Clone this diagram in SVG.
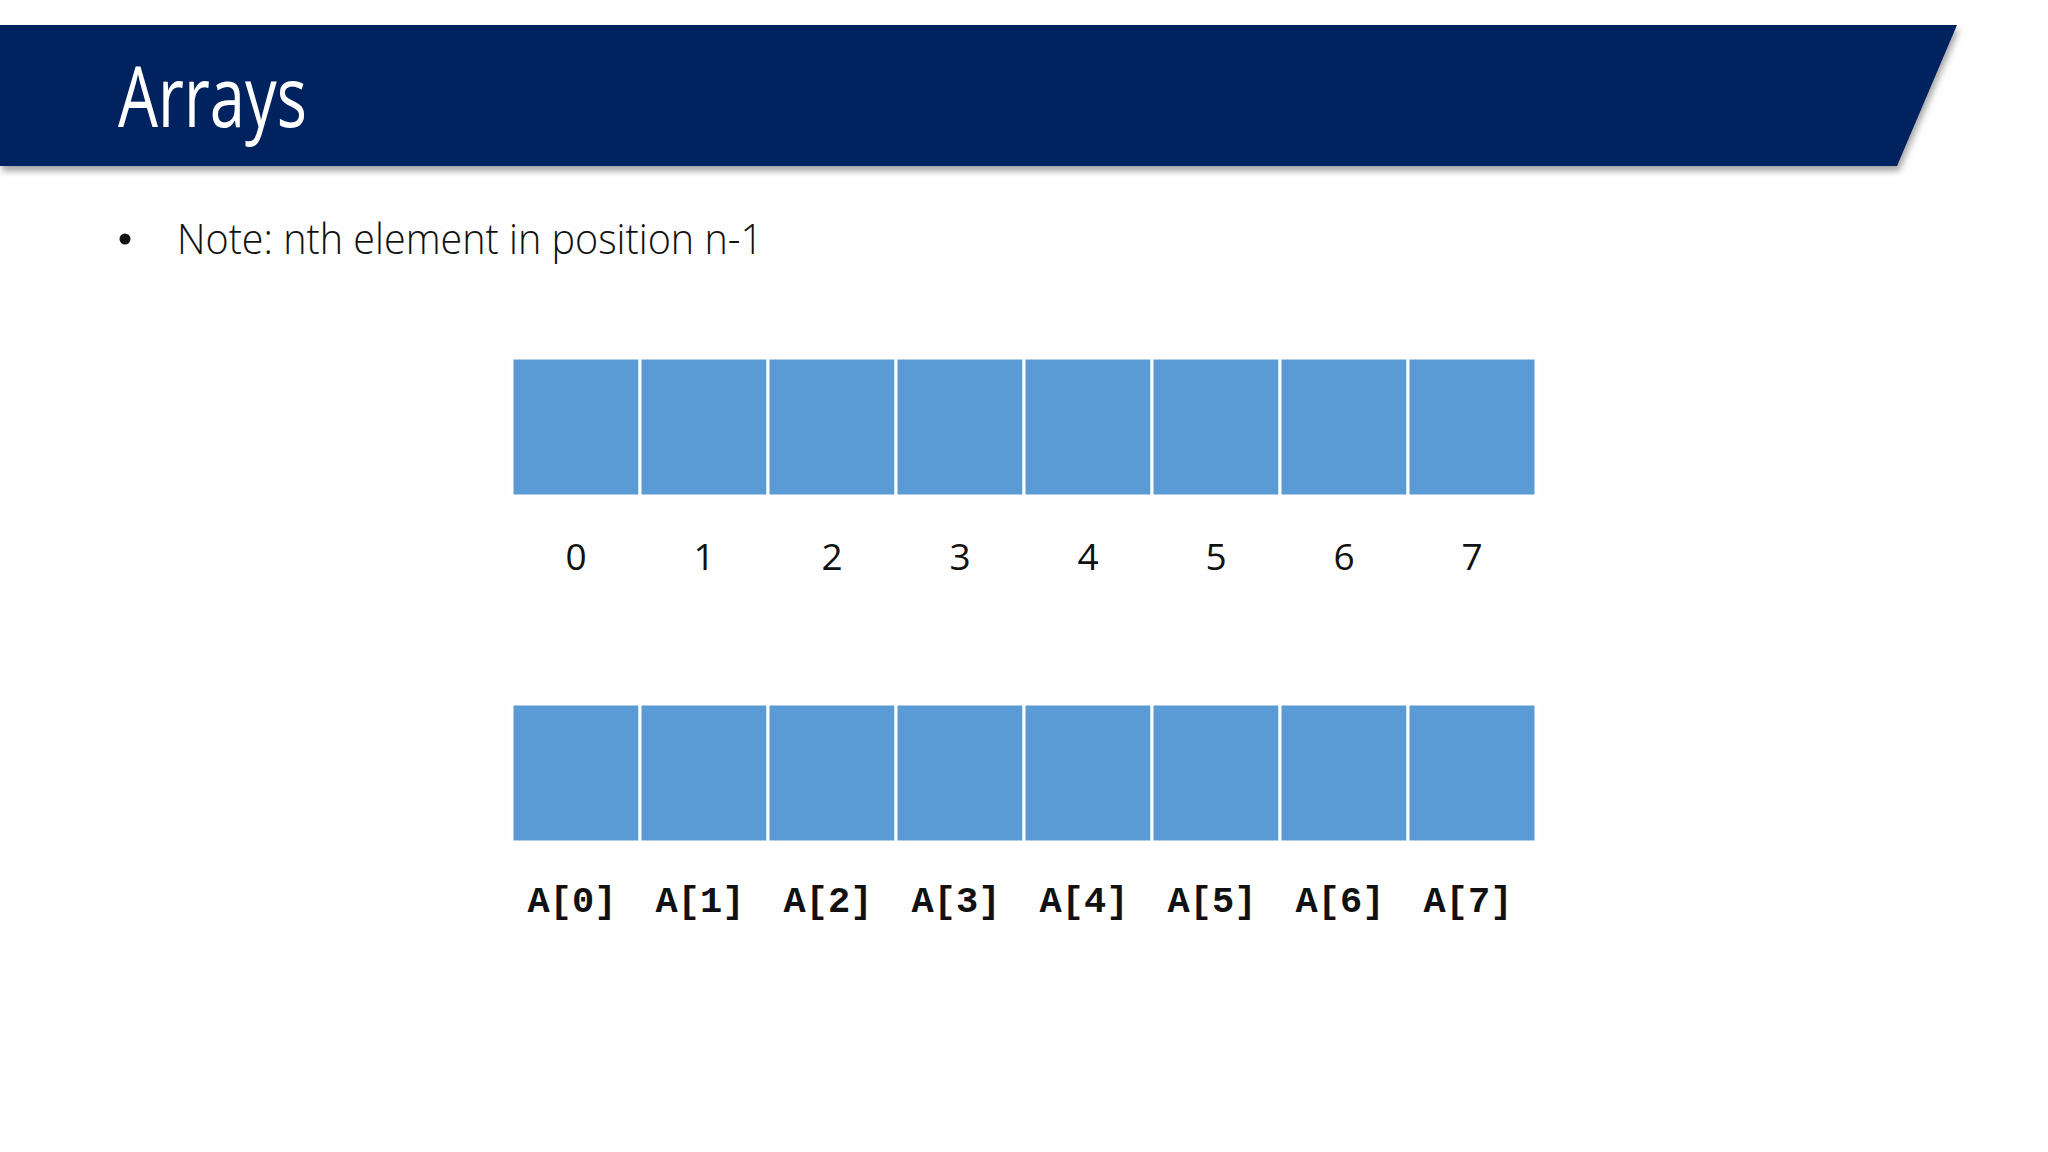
<svg xmlns="http://www.w3.org/2000/svg" width="2048" height="1152" viewBox="0 0 2048 1152">
  <defs>
    <filter id="shadow" x="-5%" y="-20%" width="110%" height="150%">
      <feDropShadow dx="2" dy="5" stdDeviation="3" flood-color="#000" flood-opacity="0.35"/>
    </filter>
  </defs>
  <style>
    .cell { fill: #5B9BD5; stroke: #FFFFFF; stroke-width: 3; }
    .idx { font-family: "Open Sans", "Noto Sans", sans-serif; font-size: 37px; fill: #111; text-anchor: middle; }
    .acc { font-family: "Liberation Mono", "Courier New", monospace; font-weight: bold; font-size: 37px; fill: #111; text-anchor: middle; }
  </style>
  <rect width="2048" height="1152" fill="#FEFEFE"/>

  <g id="header">
    <polygon points="0,25 1957,25 1897,166 0,166" fill="#03205F" filter="url(#shadow)"/>
    <text x="118" y="127" font-family="Open Sans, Noto Sans, sans-serif" font-size="84" fill="#FFFFFF" textLength="189" lengthAdjust="spacingAndGlyphs">Arrays</text>
  </g>

  <g id="bullet">
    <circle cx="125" cy="239" r="5.5" fill="#111"/>
    <text x="177" y="254" font-family="Open Sans, Noto Sans, sans-serif" font-weight="300" font-size="42" fill="#111" textLength="586" lengthAdjust="spacingAndGlyphs">Note: nth element in position n-1</text>
  </g>

  <g id="array-top">
    <rect class="cell" x="512" y="358" width="128" height="138"/>
    <rect class="cell" x="640" y="358" width="128" height="138"/>
    <rect class="cell" x="768" y="358" width="128" height="138"/>
    <rect class="cell" x="896" y="358" width="128" height="138"/>
    <rect class="cell" x="1024" y="358" width="128" height="138"/>
    <rect class="cell" x="1152" y="358" width="128" height="138"/>
    <rect class="cell" x="1280" y="358" width="128" height="138"/>
    <rect class="cell" x="1408" y="358" width="128" height="138"/>
  </g>

  <g id="index-labels">
    <text class="idx" x="576" y="570">0</text>
    <text class="idx" x="704" y="570">1</text>
    <text class="idx" x="832" y="570">2</text>
    <text class="idx" x="960" y="570">3</text>
    <text class="idx" x="1088" y="570">4</text>
    <text class="idx" x="1216" y="570">5</text>
    <text class="idx" x="1344" y="570">6</text>
    <text class="idx" x="1472" y="570">7</text>
  </g>

  <g id="array-bottom">
    <rect class="cell" x="512" y="704" width="128" height="138"/>
    <rect class="cell" x="640" y="704" width="128" height="138"/>
    <rect class="cell" x="768" y="704" width="128" height="138"/>
    <rect class="cell" x="896" y="704" width="128" height="138"/>
    <rect class="cell" x="1024" y="704" width="128" height="138"/>
    <rect class="cell" x="1152" y="704" width="128" height="138"/>
    <rect class="cell" x="1280" y="704" width="128" height="138"/>
    <rect class="cell" x="1408" y="704" width="128" height="138"/>
  </g>

  <g id="access-labels">
    <text class="acc" x="572" y="912">A[0]</text>
    <text class="acc" x="700" y="912">A[1]</text>
    <text class="acc" x="828" y="912">A[2]</text>
    <text class="acc" x="956" y="912">A[3]</text>
    <text class="acc" x="1084" y="912">A[4]</text>
    <text class="acc" x="1212" y="912">A[5]</text>
    <text class="acc" x="1340" y="912">A[6]</text>
    <text class="acc" x="1468" y="912">A[7]</text>
  </g>

  <g id="connectors"></g>
</svg>
